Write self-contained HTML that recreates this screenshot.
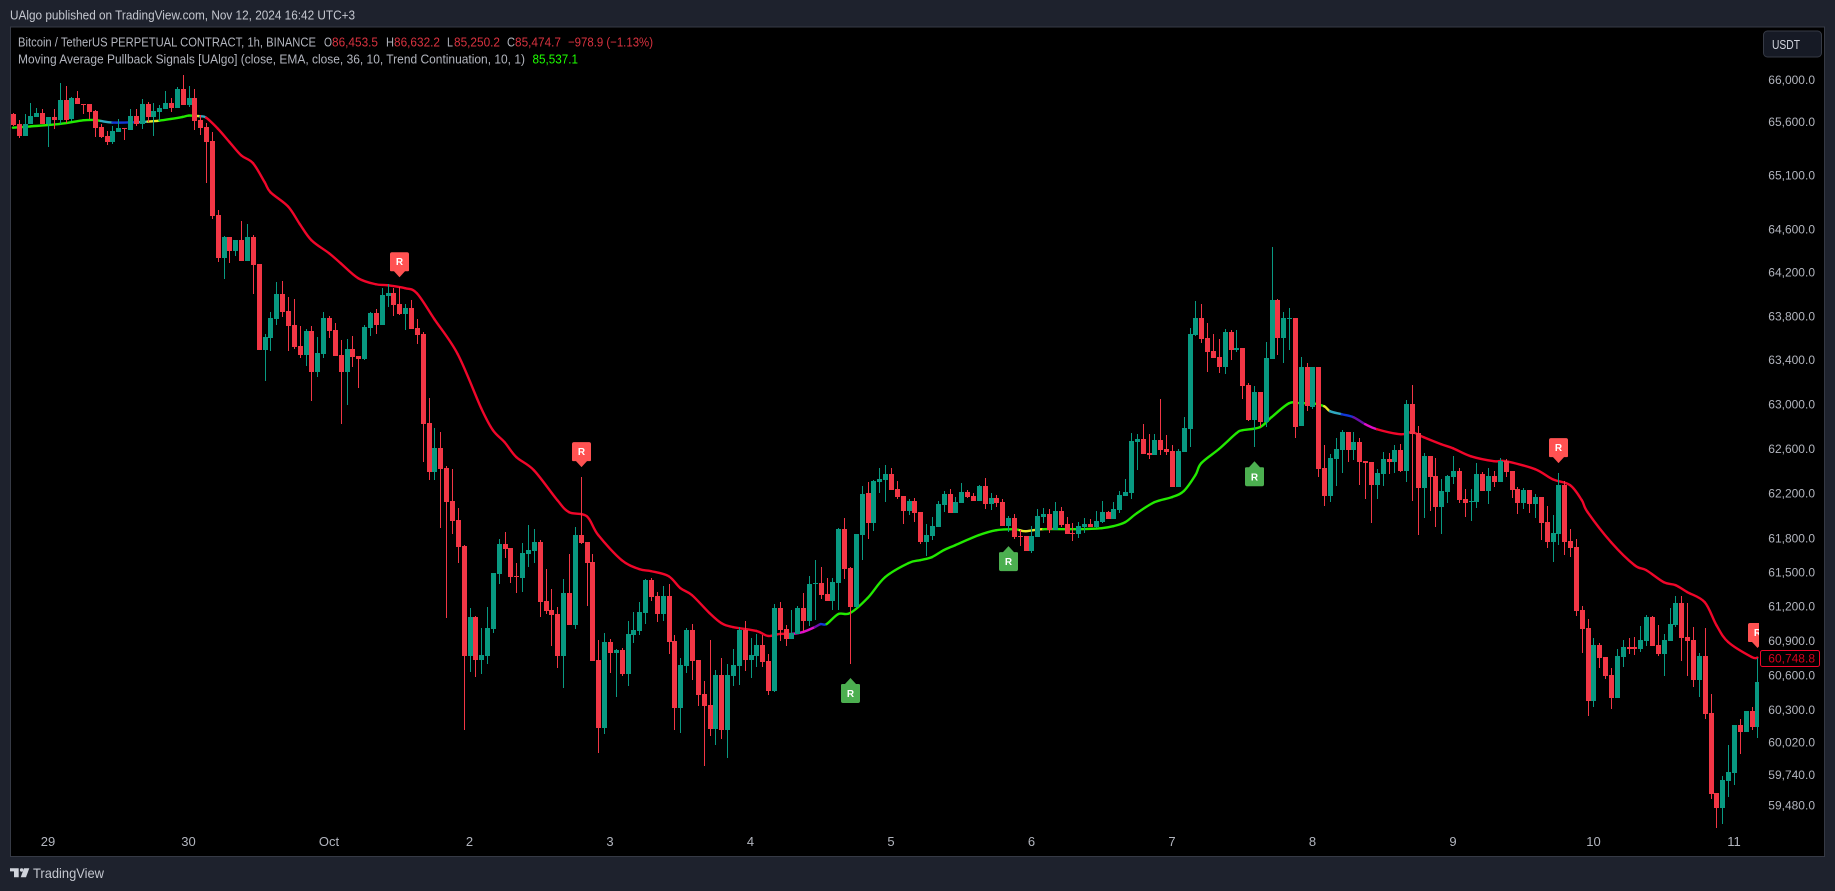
<!DOCTYPE html>
<html lang="en">
<head>
<meta charset="utf-8">
<title>BTCUSDT.P 1h chart</title>
<style>
html,body{margin:0;padding:0;background:#1e222d;overflow:hidden;}
svg{display:block;font-family:"Liberation Sans",Arial,sans-serif;}
</style>
</head>
<body>
<svg id="chart" xmlns="http://www.w3.org/2000/svg" width="1835" height="891" viewBox="0 0 1835 891">
  <defs><clipPath id="plot-clip"><rect x="11" y="28" width="1748" height="828"/></clipPath></defs>
  <rect x="0" y="0" width="1835" height="891" fill="#1e222d"/>
  <text x="10" y="19.5" font-size="13" fill="#c4c7cf" textLength="345" lengthAdjust="spacingAndGlyphs">UAlgo published on TradingView.com, Nov 12, 2024 16:42 UTC+3</text>
  <rect x="10.5" y="27" width="1814" height="829.5" fill="#000" stroke="#363a45" stroke-width="1"/>
  <g id="ma-layer" clip-path="url(#plot-clip)"></g>
  <g id="candle-layer" clip-path="url(#plot-clip)" shape-rendering="crispEdges"></g>
  <g id="marker-layer" clip-path="url(#plot-clip)"></g>
  <g font-size="13">
    <text x="18" y="46.5" fill="#b2b5be" textLength="298" lengthAdjust="spacingAndGlyphs">Bitcoin / TetherUS PERPETUAL CONTRACT, 1h, BINANCE</text>
    <text x="324" y="46.5" fill="#b2b5be" textLength="8" lengthAdjust="spacingAndGlyphs">O</text>
    <text x="332" y="46.5" fill="#d8323f" textLength="46" lengthAdjust="spacingAndGlyphs">86,453.5</text>
    <text x="386" y="46.5" fill="#b2b5be" textLength="8" lengthAdjust="spacingAndGlyphs">H</text>
    <text x="394" y="46.5" fill="#d8323f" textLength="46" lengthAdjust="spacingAndGlyphs">86,632.2</text>
    <text x="447" y="46.5" fill="#b2b5be" textLength="6" lengthAdjust="spacingAndGlyphs">L</text>
    <text x="454" y="46.5" fill="#d8323f" textLength="46" lengthAdjust="spacingAndGlyphs">85,250.2</text>
    <text x="507" y="46.5" fill="#b2b5be" textLength="8" lengthAdjust="spacingAndGlyphs">C</text>
    <text x="515" y="46.5" fill="#d8323f" textLength="46" lengthAdjust="spacingAndGlyphs">85,474.7</text>
    <text x="568" y="46.5" fill="#d8323f" textLength="85" lengthAdjust="spacingAndGlyphs">−978.9 (−1.13%)</text>
    <text x="18" y="63.5" fill="#b2b5be" textLength="507" lengthAdjust="spacingAndGlyphs">Moving Average Pullback Signals [UAlgo] (close, EMA, close, 36, 10, Trend Continuation, 10, 1)</text>
    <text x="532.5" y="63.5" fill="#1eff00" textLength="45.5" lengthAdjust="spacingAndGlyphs">85,537.1</text>
  </g>
  <g id="price-axis" font-size="12" fill="#b2b5be"></g>
  <g id="time-axis" font-size="13" fill="#b2b5be"></g>
  <g>
    <rect x="1763.5" y="31" width="58" height="26" rx="4" fill="#161a25" stroke="#363a45"/>
    <text x="1772" y="49" font-size="12.5" fill="#d1d4dc" textLength="28" lengthAdjust="spacingAndGlyphs">USDT</text>
  </g>
  <g id="last-label"></g>
  <g>
    <g fill="#d1d4dc">
      <polygon points="10,868.3 18.7,868.3 18.7,877.3 14,877.3 14,871.4 10,871.4"/>
      <circle cx="21.6" cy="870" r="1.7"/>
      <polygon points="24,868.3 29.3,868.3 26,877.3 20.7,877.3"/>
    </g>
    <text x="33" y="878" font-size="14" fill="#c4c7cf" textLength="71" lengthAdjust="spacingAndGlyphs">TradingView</text>
  </g>
</svg>
<script>
const opens=[
65670,65576,65463,65576,65645,65680,65576,65642,65613,65802,
65623,65821,65771,65764,65698,65548,65463,65406,65500,65538,
65519,65651,65576,65764,65642,65689,65717,65774,65727,65906,
65755,65821,65613,65548,65415,64726,64328,64523,64393,64495,
64301,64523,64273,63486,63595,63769,63998,63842,63714,63522,
63440,63659,63286,63450,63778,63668,63440,63286,63495,63431,
63404,63686,63824,63714,63980,64007,63906,63815,63870,63686,
63632,62825,62386,62600,62421,62127,61958,61728,60764,61103,
60729,60764,60999,61481,61746,61710,61463,61446,61657,61684,
61763,61243,61165,61130,60764,61314,61033,61825,61763,61587,
60729,60140,60885,60790,60816,60607,60947,60982,61138,61428,
61287,61130,61287,60894,60313,60677,60990,60729,60434,60339,
60131,60598,60123,60590,60677,60990,60729,60764,60860,60720,
60460,61182,60999,60912,60955,61182,61068,61393,61402,61305,
61243,61402,61878,61534,61191,61825,62198,61931,62296,62314,
62368,62234,62172,62038,62127,62029,61763,61816,61896,62092,
62189,62020,62109,62207,62172,62127,62261,62100,62154,62118,
61905,61976,61816,61816,61684,61807,61985,62011,61869,62038,
61922,61843,61834,61896,61922,61896,61940,62029,61967,62047,
62172,62198,62654,62681,62556,62538,62672,62592,62574,62252,
62565,62771,63623,63778,63595,63477,63422,63331,63650,63486,
63504,63167,62852,63104,62834,63404,63943,63595,63769,63778,
62798,63331,62969,63331,62421,62172,62502,62583,62744,62583,
62654,62484,62475,62270,62368,62502,62475,62583,62395,62996,
62735,62243,62529,62350,62074,62207,62341,62395,62145,62118,
62118,62368,62216,62350,62296,62484,62395,62234,62109,62225,
62100,62163,61940,61763,61834,62270,61772,61719,61165,61007,
60373,60860,60755,60598,60399,60755,60842,60842,60825,60894,
61103,60860,60781,60894,61033,61226,60929,60903,60555,60764,
60270,59585,59457,59686,59755,60166,60106,60287,60149];
const highs=[
65680,65620,65677,65780,65733,65724,65642,65724,65962,65934,
65830,65887,65771,65764,65708,65576,65510,65557,65623,65538,
65717,65717,65811,65783,65774,65755,65887,65821,65924,66038,
65934,65906,65661,65585,65500,64773,64532,64523,64495,64670,
64643,64541,64273,63632,63833,64108,64117,63970,63952,63705,
63677,63705,63604,63833,63796,63732,63577,63586,63613,63431,
63714,63833,63861,64053,64089,64053,64062,63906,63943,63769,
63650,63050,62780,62744,62439,62413,62065,61737,61182,61112,
61007,61191,61490,61790,61852,61710,61578,61755,61914,61878,
61781,61525,61349,61191,61437,61657,61896,62341,61763,61657,
60903,60964,60912,60825,60833,61068,61147,61234,61437,61446,
61323,61375,61393,60947,60746,61007,61042,60729,60547,60903,
60642,60746,60694,60825,61016,61068,60920,60955,60947,60781,
61217,61234,61033,61165,61199,61314,61463,61604,61542,61446,
61446,61887,61976,61542,61834,62261,62296,62314,62421,62448,
62421,62305,62172,62145,62154,62029,61922,61985,62127,62216,
62234,62163,62287,62225,62198,62270,62332,62198,62181,62145,
61994,62011,61869,61816,61905,62056,62065,62056,62118,62074,
61985,61931,61940,61976,61967,62038,62127,62038,62118,62216,
62323,62735,62726,62816,62726,62726,63041,62717,62627,62592,
62879,63686,63934,63906,63732,63632,63586,63677,63668,63668,
63504,63186,63158,63104,63559,64430,63952,63833,63870,63778,
63422,63368,63331,63331,62627,62547,62690,62762,62744,62744,
62690,62484,62475,62413,62565,62556,62627,62636,63032,63167,
62798,62556,62529,62511,62323,62359,62529,62421,62234,62234,
62466,62386,62421,62395,62511,62502,62395,62252,62243,62225,
62189,62163,62083,62002,62377,62305,61878,61790,61199,61086,
60920,60877,60755,60660,60825,60903,60920,60929,61025,61121,
61112,61033,60955,61182,61287,61287,61226,61016,60790,61007,
60434,59585,59729,59994,60166,60218,60287,60321,60746];
const lows=[
65560,65447,65463,65576,65645,65576,65359,65529,65576,65588,
65604,65764,65670,65630,65453,65444,65378,65387,65500,65425,
65519,65557,65529,65595,65463,65604,65717,65689,65727,65755,
65736,65519,65472,65030,64689,64291,64135,64282,64347,64301,
64301,63998,63486,63204,63477,63714,63787,63477,63495,63413,
63340,63023,63240,63413,63595,63431,62816,62987,63331,63140,
63395,63613,63632,63714,63879,63796,63806,63668,63677,63541,
62475,62314,62314,61887,61098,61834,61578,60123,60624,60581,
60607,60694,60964,61393,61622,61402,61314,61323,61542,61578,
61103,61130,60851,60660,60486,61033,60999,61746,61199,60720,
59926,60089,60616,60408,60590,60503,60877,60947,61042,61243,
61060,61068,60781,60123,60098,60616,60555,60330,59815,60071,
59994,60046,59883,60503,60512,60633,60572,60668,60668,60425,
60451,60894,60851,60912,60955,60982,61025,61077,61261,61243,
61165,61165,61437,60694,61182,61604,61790,61860,62198,62118,
62225,62145,61922,62002,61940,61746,61640,61781,61896,62029,
62020,62020,62109,62154,62127,62127,62056,62047,62074,61905,
61852,61790,61728,61684,61666,61807,61931,61843,61869,61896,
61834,61772,61799,61843,61896,61887,61931,61967,61967,62020,
62172,62145,62403,62547,62502,62538,62538,62538,62252,62252,
62565,62609,63613,63550,63286,63413,63277,63268,63395,63468,
63041,62843,62609,62789,62789,63404,63440,63368,63486,62690,
62798,62933,62951,62341,62083,62118,62261,62377,62475,62493,
62270,62145,61931,62145,62261,62368,62377,62386,62296,62127,
61825,61976,62038,61896,61834,62109,62279,62109,61985,61949,
62065,62216,62100,62252,62296,62341,62154,62011,62056,62020,
61976,61781,61710,61587,61737,61648,61631,61112,60790,60244,
60321,60660,60564,60304,60399,60668,60781,60772,60799,60851,
60851,60764,60590,60894,61016,60720,60590,60494,60408,60218,
59534,59287,59321,59551,59652,59917,60106,60123,60054];
const closes=[
65566,65463,65583,65651,65680,65576,65642,65613,65802,65613,
65821,65764,65764,65689,65538,65453,65406,65510,65538,65532,
65651,65576,65764,65642,65698,65727,65774,65727,65906,65755,
65821,65604,65538,65406,64717,64328,64523,64393,64495,64301,
64523,64264,63486,63604,63778,63998,63833,63705,63513,63440,
63659,63286,63459,63778,63659,63431,63286,63495,63422,63404,
63696,63824,63714,63989,64007,63897,63815,63870,63677,63623,
62816,62386,62600,62413,62118,61949,61719,60764,61103,60729,
60772,61007,61490,61746,61701,61455,61455,61666,61692,61763,
61234,61156,61121,60764,61314,61033,61825,61755,61578,60720,
60140,60885,60790,60816,60607,60955,60990,61147,61428,61278,
61130,61287,60885,60313,60686,60990,60720,60425,60330,60131,
60598,60123,60598,60686,60990,60729,60772,60860,60711,60460,
61182,60990,60912,60964,61182,61068,61393,61402,61296,61243,
61410,61878,61525,61191,61834,62189,61931,62305,62323,62368,
62225,62163,62038,62127,62020,61763,61825,61905,62100,62189,
62020,62118,62207,62163,62127,62261,62100,62154,62109,61905,
61976,61807,61807,61684,61816,61994,62011,61869,62038,61914,
61834,61834,61905,61922,61896,61949,62029,61967,62056,62181,
62207,62663,62681,62547,62538,62672,62583,62565,62252,62574,
62780,63632,63778,63586,63468,63413,63331,63650,63486,63504,
63158,62852,63104,62834,63413,63943,63595,63778,63778,62789,
63331,62978,63331,62413,62172,62511,62592,62744,62583,62654,
62475,62466,62270,62377,62502,62475,62583,62395,62996,62726,
62243,62529,62341,62074,62216,62350,62395,62136,62109,62127,
62368,62216,62350,62296,62484,62386,62225,62109,62225,62100,
62163,61931,61763,61843,62270,61763,61710,61156,60999,60373,
60860,60746,60590,60399,60764,60842,60825,60825,60903,61103,
60851,60781,60903,61042,61226,60920,60894,60555,60764,60261,
59576,59457,59695,59763,60166,60106,60287,60149,60538];

const maBars=[0,3,8,12,14,15,17,21,23,25,27,29,30,31,32,33,35,37,39,41,43,44,47,49,51,54,56,59,62,64,67,69,72,76,80,82,84,86,89,93,95,98,100,104,107,109,112,114,116,119,121,123,127,129,131,133,135,137,138,139,141,143,146,149,153,155,157,159,161,165,168,171,172,173,176,182,186,188,190,192,195,198,200,202,203,206,209,210,213,215,218,220,222,224,225,227,229,231,233,237,239,241,244,246,249,253,255,260,263,266,268,269,273,277,279,282,284,286,289,291,293,297,298];
const maValues=[65544,65556,65579,65613,65616,65607,65592,65595,65601,65610,65626,65645,65658,65655,65651,65638,65535,65409,65284,65212,65034,64940,64808,64645,64495,64375,64282,64144,64089,64080,64053,64007,63769,63449,62960,62762,62654,62520,62403,62136,62029,61994,61825,61604,61525,61507,61463,61358,61296,61138,61051,61016,60982,60938,60956,60956,60973,61016,61042,61042,61130,61138,61270,61454,61578,61604,61631,61692,61737,61825,61869,61878,61869,61860,61878,61878,61887,61905,61940,62020,62118,62163,62216,62359,62466,62592,62735,62762,62789,62879,63005,63005,63005,62978,62933,62906,62879,62816,62771,62726,62744,62699,62636,62600,62529,62484,62484,62413,62323,62270,62136,62029,61763,61560,61516,61410,61384,61323,61234,61033,60885,60755,60749];
const maStateStarts=[0,15,17,21,23,25,31,32,33,133,137,138,139,172,176,224,225,227,229,231,233];
const maStateNames=['bull','teal','blue','teal','yellow','bull','yellow','teal','bear','magenta','purple','blue','bull','yellow','bull','yellow','teal','blue','purple','magenta','bear'];

const bearSignalBars=[66,97,264,298];
const bullSignalBars=[143,170,212];
const priceTicks=[66000,65600,65100,64600,64200,63800,63400,63000,62600,62200,61800,61500,61200,60900,60600,60300,60020,59740,59480];
const timeTickBars=[6,30,54,78,102,126,150,174,198,222,246,270,294];
const timeTickLabels=['29','30','Oct','2','3','4','5','6','7','8','9','10','11'];
const maLastValue=60748.8;

const NS='http://www.w3.org/2000/svg';
function xScale(bar){return 12.9+5.854*bar;}
function yScale(price){return 79.3+6976*Math.log(66000/price);}
function priceText(p){return p.toLocaleString('en-US',{minimumFractionDigits:1,maximumFractionDigits:1});}
function stateColor(state){
  if(state==='bull')return '#22ea00';
  if(state==='bear')return '#f0062a';
  if(state==='yellow')return '#e6e62a';
  if(state==='teal')return '#2fa8c0';
  if(state==='blue')return '#1238d8';
  if(state==='purple')return '#6a10a8';
  return '#e010c8';
}
function stateAt(bar){
  let s=maStateNames[0];
  for(let k=0;k<maStateStarts.length;k++){if(maStateStarts[k]<=bar)s=maStateNames[k];}
  return s;
}

const maLayer=document.getElementById('ma-layer');
for(let k=0;k<maBars.length-1;k++){
  const a=Math.max(0,k-1);
  const d=Math.min(maBars.length-1,k+2);
  const x0=xScale(maBars[a]), y0=yScale(maValues[a]);
  const x1=xScale(maBars[k]), y1=yScale(maValues[k]);
  const x2=xScale(maBars[k+1]), y2=yScale(maValues[k+1]);
  const x3=xScale(maBars[d]), y3=yScale(maValues[d]);
  const seg=document.createElementNS(NS,'path');
  
  
  seg.setAttribute('d','M'+x1+' '+y1+'C'+(x1+(x2-x0)/6)+' '+(y1+(y2-y0)/6)+' '+(x2-(x3-x1)/6)+' '+(y2-(y3-y1)/6)+' '+x2+' '+y2);
  seg.setAttribute('fill','none');
  seg.setAttribute('stroke',stateColor(stateAt(maBars[k])));
  seg.setAttribute('stroke-width','2.4');
  seg.setAttribute('stroke-linecap','round');
  maLayer.appendChild(seg);
}

const candleLayer=document.getElementById('candle-layer');
for(let i=0;i<opens.length;i++){
  const cx=Math.round(xScale(i));
  const up=closes[i]>=opens[i];
  const color=up?'#089981':'#f23645';
  const wickTop=Math.round(yScale(highs[i]));
  const wickBottom=Math.round(yScale(lows[i]));
  const bodyTop=Math.round(yScale(Math.max(opens[i],closes[i])));
  const bodyBottom=Math.round(yScale(Math.min(opens[i],closes[i])));
  const wick=document.createElementNS(NS,'rect');
  
  
  wick.setAttribute('x',cx);
  wick.setAttribute('y',wickTop);
  wick.setAttribute('width',1);
  wick.setAttribute('height',Math.max(1,wickBottom-wickTop));
  wick.setAttribute('fill',color);
  candleLayer.appendChild(wick);
  const body=document.createElementNS(NS,'rect');
  
  
  body.setAttribute('x',cx-2);
  body.setAttribute('y',bodyTop);
  body.setAttribute('width',5);
  body.setAttribute('height',Math.max(1,bodyBottom-bodyTop));
  body.setAttribute('fill',color);
  candleLayer.appendChild(body);
}

const markerLayer=document.getElementById('marker-layer');
function addR(cx,cy,group){
  const t=document.createElementNS(NS,'text');
  
  
  t.setAttribute('x',cx);
  t.setAttribute('y',cy+3.5);
  t.setAttribute('text-anchor','middle');
  t.setAttribute('font-size','10');
  t.setAttribute('font-weight','bold');
  t.setAttribute('fill','#ffffff');
  t.textContent='R';
  group.appendChild(t);
}
bearSignalBars.forEach(function(b){
  const cx=Math.round(xScale(b))+0.5;
  const tip=yScale(highs[b])-10;
  const top=tip-25;
  const bot=tip-6;
  const g=document.createElementNS(NS,'g');
  
  
  const p=document.createElementNS(NS,'path');
  
  
  p.setAttribute('d','M'+(cx-7.5)+' '+top+'H'+(cx+7.5)+'Q'+(cx+9.5)+' '+top+' '+(cx+9.5)+' '+(top+2)+'V'+(bot-1)+'Q'+(cx+9.5)+' '+bot+' '+(cx+8)+' '+bot+'H'+(cx+5.5)+'L'+cx+' '+tip+'L'+(cx-5.5)+' '+bot+'H'+(cx-8)+'Q'+(cx-9.5)+' '+bot+' '+(cx-9.5)+' '+(bot-1)+'V'+(top+2)+'Q'+(cx-9.5)+' '+top+' '+(cx-7.5)+' '+top+'Z');
  p.setAttribute('fill','#ff5252');
  g.appendChild(p);
  addR(cx,top+9.5,g);
  markerLayer.appendChild(g);
});
bullSignalBars.forEach(function(b){
  const cx=Math.round(xScale(b))+0.5;
  const tip=yScale(lows[b])+14;
  const top=tip+6;
  const bot=tip+25;
  const g=document.createElementNS(NS,'g');
  
  
  const p=document.createElementNS(NS,'path');
  
  
  p.setAttribute('d','M'+cx+' '+tip+'L'+(cx+5.5)+' '+top+'H'+(cx+8)+'Q'+(cx+9.5)+' '+top+' '+(cx+9.5)+' '+(top+1)+'V'+(bot-2)+'Q'+(cx+9.5)+' '+bot+' '+(cx+7.5)+' '+bot+'H'+(cx-7.5)+'Q'+(cx-9.5)+' '+bot+' '+(cx-9.5)+' '+(bot-2)+'V'+(top+1)+'Q'+(cx-9.5)+' '+top+' '+(cx-8)+' '+top+'H'+(cx-5.5)+'Z');
  p.setAttribute('fill','#4caf50');
  g.appendChild(p);
  addR(cx,top+9.5,g);
  markerLayer.appendChild(g);
});

const priceAxis=document.getElementById('price-axis');
priceTicks.forEach(function(p){
  const t=document.createElementNS(NS,'text');
  
  
  t.setAttribute('x',1815);
  t.setAttribute('y',yScale(p)+4.5);
  t.setAttribute('text-anchor','end');
  t.textContent=priceText(p);
  priceAxis.appendChild(t);
});

const timeAxis=document.getElementById('time-axis');
timeTickBars.forEach(function(b,k){
  const t=document.createElementNS(NS,'text');
  
  
  t.setAttribute('x',xScale(b));
  t.setAttribute('y',846);
  t.setAttribute('text-anchor','middle');
  t.textContent=timeTickLabels[k];
  timeAxis.appendChild(t);
});

const lastLabel=document.getElementById('last-label');
const labelY=yScale(maLastValue);
const labelBox=document.createElementNS(NS,'rect');


labelBox.setAttribute('x',1760.5);
labelBox.setAttribute('y',Math.round(labelY)-7.5);
labelBox.setAttribute('width',59);
labelBox.setAttribute('height',16);
labelBox.setAttribute('rx',2);
labelBox.setAttribute('fill','#000');
labelBox.setAttribute('stroke','#f0062a');
lastLabel.appendChild(labelBox);
const labelText=document.createElementNS(NS,'text');


labelText.setAttribute('x',1815);
labelText.setAttribute('y',Math.round(labelY)+4.5);
labelText.setAttribute('text-anchor','end');
labelText.setAttribute('font-size','12');
labelText.setAttribute('fill','#d8001e');
labelText.textContent=priceText(maLastValue);
lastLabel.appendChild(labelText);
</script>
</body>
</html>
